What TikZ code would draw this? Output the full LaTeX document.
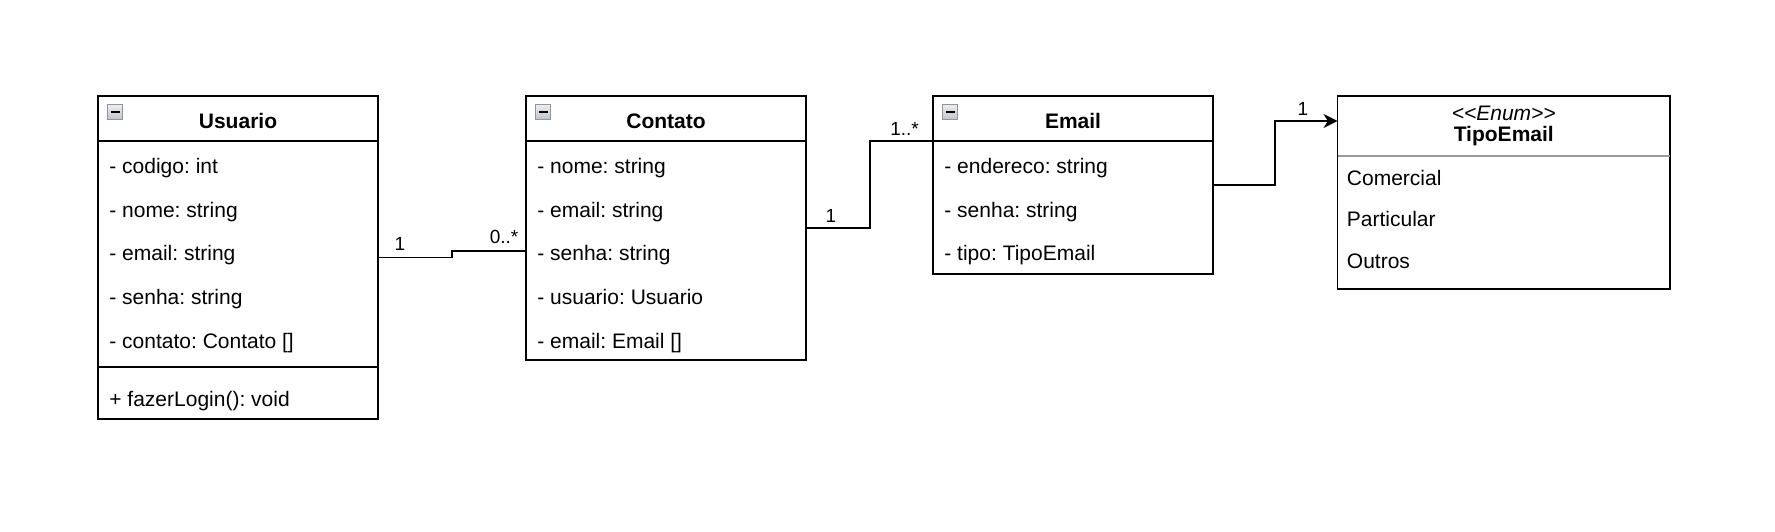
\documentclass[tikz,border=0pt]{standalone}
\usepackage{fontspec}
\setmainfont{Liberation Sans}
\usetikzlibrary{arrows.meta, calc}
\definecolor{inkline}{HTML}{000000}
\definecolor{rulegray}{HTML}{999999}
\definecolor{iconedge}{HTML}{8E96A6}
\definecolor{icontop}{HTML}{EEEEEE}
\definecolor{iconfill}{HTML}{C2C4C8}
\newcommand{\umlsize}{\fontsize{10.5}{12.6}\selectfont}
\newcommand{\multsize}{\fontsize{9.5}{11.4}\selectfont}
\tikzset{
  umlbox/.style={draw=inkline, line width=0.9pt, anchor=north west,
                 inner sep=0pt, outer sep=0pt},
  umlline/.style={draw=inkline, line width=0.9pt},
  enumrule/.style={draw=rulegray, line width=1pt},
  umltitle/.style={anchor=base, inner sep=0pt, font=\umlsize\bfseries},
  umlattr/.style={anchor=base west, inner sep=0pt, font=\umlsize},
  collapse/.style={draw=iconedge, line width=0.8pt, top color=icontop,
                   bottom color=iconfill, minimum size=7.6pt, inner sep=0pt},
  mult/.style={anchor=base, inner sep=0pt, font=\multsize},
  assoc/.style={draw=inkline, line width=0.9pt},
}
\newcommand{\umlclass}[5]{%
  \node[umlbox, minimum width=#3*0.5pt, minimum height=#4*0.5pt] (#1) at (#2,96) {};
  \draw[umlline] ($(#1.north west)+(0,45)$) -- ($(#1.north east)+(0,45)$);
  \node[collapse] (#1-icon) at ($(#1.north west)+(17,16)$) {};
  \draw[line width=1.1pt] ($(#1-icon.center)+(-4.5,0)$) -- ($(#1-icon.center)+(4.5,0)$);
  \node[umltitle] (#1-title) at ($(#1.north)+(0,32)$) {#5};}

\begin{document}
\frenchspacing
\begin{tikzpicture}[x=0.5pt, y=-0.5pt]
  \useasboundingbox (0,0) rectangle (1775,531);

  % classes
  \umlclass{usuario}{98}{280}{323}{Usuario}
  \foreach \txt [count=\i] in {- codigo: int, - nome: string, - email: string,
      - senha: string, {- contato: Contato []}}
    \node[umlattr] (usuario-a\i) at ($(usuario.north west)+(11,{77.5+43.7*(\i-1)})$) {\txt};
  \draw[umlline] ($(usuario.north west)+(0,271)$) -- ($(usuario.north east)+(0,271)$);
  \node[umlattr] (usuario-m1) at ($(usuario.north west)+(11,310)$) {+ fazerLogin(): void};

  \umlclass{contato}{526}{280}{264}{Contato}
  \foreach \txt [count=\i] in {- nome: string, - email: string, - senha: string,
      - usuario: Usuario, {- email: Email []}}
    \node[umlattr] (contato-a\i) at ($(contato.north west)+(11,{77.5+43.7*(\i-1)})$) {\txt};

  \umlclass{email}{933}{280}{178}{Email}
  \foreach \txt [count=\i] in {- endereco: string, - senha: string, - tipo: TipoEmail}
    \node[umlattr] (email-a\i) at ($(email.north west)+(11,{77.5+43.7*(\i-1)})$) {\txt};

  % enumeration
  \node[umlbox, minimum width=166.25pt, minimum height=96.5pt] (tipoemail) at (1337.5,96) {};
  \draw[enumrule] ($(tipoemail.north west)+(0,60)$) -- ($(tipoemail.north east)+(0,60)$);
  \node[umltitle, font=\umlsize\itshape] (tipoemail-stereo) at ($(tipoemail.north)+(0,24)$) {<{}<Enum>{}>};
  \node[umltitle] (tipoemail-title) at ($(tipoemail.north)+(0,45.7)$) {TipoEmail};
  \foreach \txt [count=\i] in {Comercial, Particular, Outros}
    \node[umlattr] (tipoemail-v\i) at ($(tipoemail.north west)+(9,{89+41.7*(\i-1)})$) {\txt};

  % associations
  \coordinate (contato-in) at ($(contato.north west)+(0,154.7)$);
  \coordinate (email-in) at ($(email.north west)+(0,45)$);
  \coordinate (tipo-in) at ($(tipoemail.north west)+(0,25)$);
  \draw[assoc] (usuario.east) -- ++(74,0) |- (contato-in);
  \draw[assoc] (contato.east) -- ++(64,0) |- (email-in);
  \draw[assoc, -{Stealth[length=7pt, width=7pt, inset=2.2pt]}] (email.east) -- ++(62,0) |- (tipo-in);

  % multiplicities
  \node[mult] (m-usuario) at (400,250) {1};
  \node[mult] (m-contato-l) at (504,243.3) {0..*};
  \node[mult] (m-contato-r) at (831,222) {1};
  \node[mult] (m-email-l) at (904.5,135) {1..*};
  \node[mult] (m-tipo) at (1303,115) {1};
\end{tikzpicture}
\end{document}
